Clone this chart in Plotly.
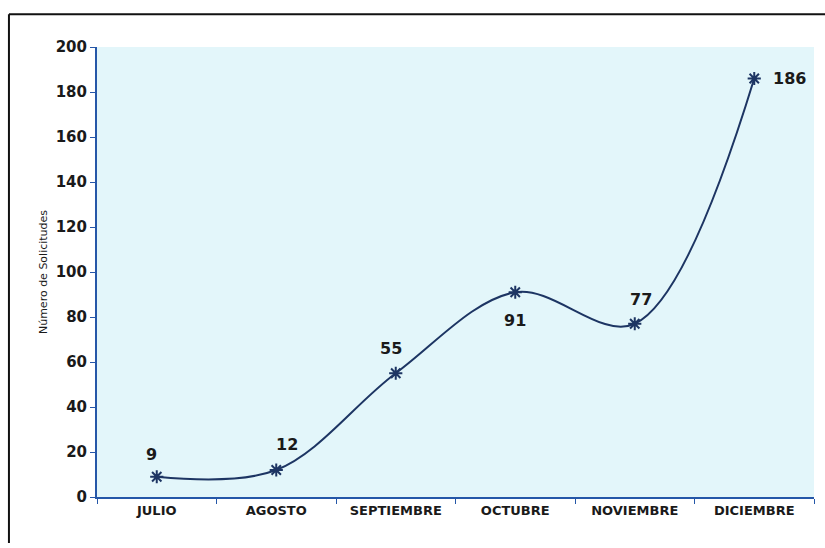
import plotly.graph_objects as go

meses = ['JULIO', 'AGOSTO', 'SEPTIEMBRE', 'OCTUBRE', 'NOVIEMBRE', 'DICIEMBRE']
solicitudes = [9, 12, 55, 91, 77, 186]
y_ticks = list(range(0, 201, 20))

# desplazamiento de cada etiqueta respecto a su punto (px)
etiqueta_dx = [-5, 11, -5, 0, 6, 35]
etiqueta_dy = [22, 26, 25, -28, 24, 0]

line_color = '#1d3563'
axis_color = '#2557a8'

fig = go.Figure()
fig.add_trace(go.Scatter(
    x=meses, y=solicitudes,
    mode='lines+markers',
    line=dict(color=line_color, width=2, shape='spline', smoothing=1.0),
    marker=dict(symbol='asterisk-open', size=11, line=dict(color=line_color, width=2)),
    cliponaxis=False,
    showlegend=False,
))

for mes, v, dx, dy in zip(meses, solicitudes, etiqueta_dx, etiqueta_dy):
    fig.add_annotation(x=mes, y=v, text=str(v), showarrow=False,
                       xshift=dx, yshift=dy,
                       font=dict(family='DejaVu Sans', size=16, color='#1a1a1a', weight='bold'))

fig.update_layout(
    width=825, height=548,
    margin=dict(l=97, r=11, t=47, b=51),
    paper_bgcolor='white',
    plot_bgcolor='#e3f6fa',
    font=dict(family='DejaVu Sans', color='#1a1a1a'),
    xaxis=dict(
        type='category', range=[-0.5, 5.5], tickson='boundaries', ticks='outside', ticklen=5,
        tickcolor=axis_color, showline=True, linecolor=axis_color, linewidth=2,
        showgrid=False, zeroline=False,
        tickfont=dict(size=13, weight='bold'),
    ),
    yaxis=dict(
        range=[0, 200], tickvals=y_ticks, ticks='outside', ticklen=5,
        tickcolor=axis_color, showline=True, linecolor=axis_color, linewidth=2,
        showgrid=False, zeroline=False,
        tickfont=dict(size=15, weight='bold'),
        title=dict(text='Número de Solicitudes', font=dict(size=11), standoff=6),
    ),
    shapes=[
        dict(type='line', xref='paper', yref='paper', x0=-0.1228, x1=1.02, y0=1.073, y1=1.073,
             line=dict(color='#111111', width=2)),
        dict(type='line', xref='paper', yref='paper', x0=-0.1228, x1=-0.1228, y0=1.073, y1=-0.102,
             line=dict(color='#111111', width=2)),
    ],
)

fig.write_html('out.html', config={'displayModeBar': False},
               post_script="document.body.style.margin='0';")
